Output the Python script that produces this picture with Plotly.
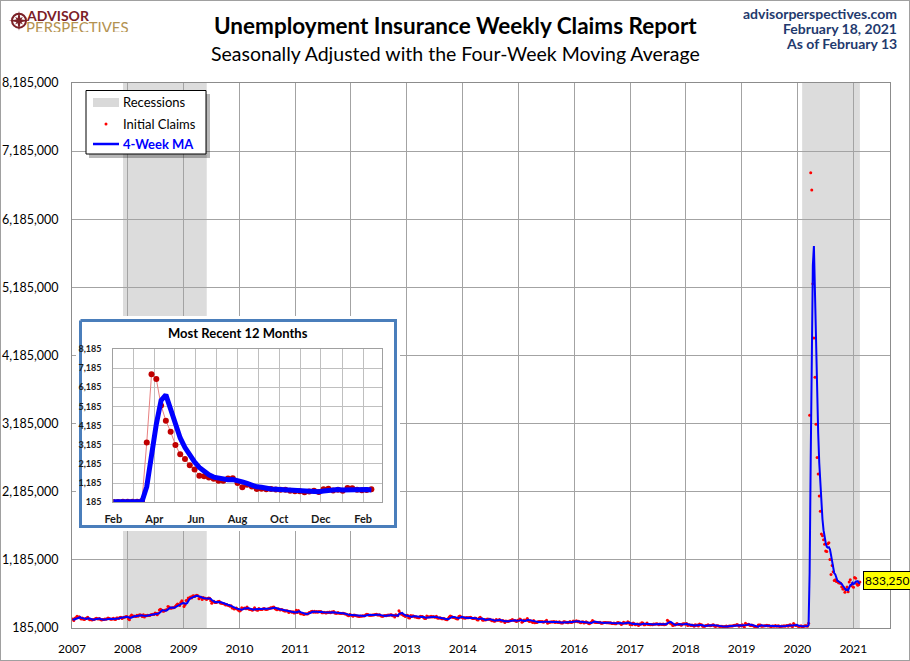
import numpy as np
import pandas as pd
import plotly.graph_objects as go

W, H = 910, 661

# ---------------- data (weekly initial claims, thousands, seasonally adjusted) -------------
claims_2007 = [317, 296, 328, 335, 357, 338, 349, 330, 318, 331, 312, 310, 323, 330, 342, 317, 305, 310,
               303, 311, 309, 322, 328, 321, 317, 324, 308, 302, 310, 309, 318, 315, 320, 330, 325, 318,
               313, 317, 327, 315, 309, 330, 332, 326, 339, 343, 324, 336, 344, 347, 355, 350]
claims_2008 = [322, 305, 356, 375, 354, 361, 356, 354, 372, 358, 374, 380, 372, 355, 380, 345, 368, 365,
               373, 370, 368, 378, 383, 387, 384, 407, 397, 380, 402, 451, 462, 448, 434, 431, 446, 448,
               456, 499, 493, 480, 474, 482, 484, 487, 506, 522, 539, 531, 514, 558, 585, 552]
claims_2009 = [502, 528, 590, 591, 626, 623, 640, 627, 654, 658, 646, 660, 665, 657, 614, 636, 635, 602,
               631, 620, 621, 605, 616, 626, 620, 586, 549, 570, 576, 560, 561, 568, 573, 576, 551, 550,
               545, 544, 535, 522, 531, 520, 514, 505, 510, 478, 480, 463, 471, 478, 461, 447]
claims_2010 = [434, 446, 482, 470, 474, 477, 468, 494, 468, 460, 455, 453, 446, 459, 482, 456, 450, 446,
               471, 460, 457, 457, 466, 472, 459, 456, 462, 469, 472, 483, 480, 488, 494, 472, 462, 454,
               467, 459, 448, 458, 452, 441, 434, 434, 440, 434, 414, 427, 424, 415, 422, 404]
claims_2011 = [409, 445, 414, 442, 416, 396, 395, 393, 383, 392, 393, 389, 396, 411, 418, 427, 432, 418,
               431, 416, 426, 415, 428, 424, 426, 409, 408, 418, 409, 405, 415, 412, 421, 408, 419, 421,
               426, 404, 403, 403, 411, 403, 401, 398, 400, 402, 393, 390, 387, 371, 364, 384, 375]
claims_2012 = [372, 356, 376, 371, 364, 362, 358, 355, 361, 359, 366, 360, 363, 380, 388, 385, 371, 371,
               373, 377, 374, 381, 384, 387, 376, 376, 381, 364, 357, 358, 365, 370, 366, 372, 375, 373,
               379, 378, 363, 368, 346, 381, 373, 364, 439, 410, 392, 386, 372, 363, 355, 370]
claims_2013 = [371, 335, 330, 368, 356, 365, 358, 345, 351, 340, 334, 336, 359, 355, 352, 339, 325, 324,
               360, 345, 350, 346, 356, 348, 355, 346, 342, 358, 333, 327, 337, 332, 320, 321, 326, 316,
               311, 305, 323, 348, 360, 352, 342, 338, 340, 327, 320, 316, 352, 360, 345, 341]
claims_2014 = [330, 335, 327, 338, 336, 335, 339, 343, 330, 325, 324, 332, 329, 305, 304, 330, 344, 324,
               302, 297, 309, 303, 312, 317, 313, 314, 303, 290, 304, 285, 289, 311, 299, 300, 308, 288,
               283, 296, 286, 267, 288, 284, 281, 289, 293, 297, 310, 300, 294, 289, 280, 298]
claims_2015 = [294, 316, 305, 268, 281, 303, 297, 304, 325, 292, 282, 291, 282, 267, 295, 263, 265, 264,
               275, 279, 280, 276, 280, 269, 278, 281, 297, 255, 267, 270, 272, 276, 273, 282, 264, 275,
               271, 264, 276, 262, 260, 260, 276, 276, 270, 271, 262, 269, 282, 267, 268, 287]
claims_2016 = [277, 284, 293, 278, 285, 269, 262, 272, 278, 259, 265, 276, 267, 253, 248, 257, 274, 294,
               278, 268, 267, 267, 264, 264, 268, 254, 253, 262, 265, 267, 262, 262, 263, 260, 262, 252,
               252, 257, 246, 249, 261, 266, 259, 254, 235, 251, 268, 260, 258, 254, 275, 265, 236]
claims_2017 = [247, 234, 259, 246, 234, 239, 244, 223, 243, 241, 261, 258, 234, 234, 244, 257, 238, 236,
               232, 235, 234, 245, 241, 244, 248, 244, 234, 245, 240, 236, 244, 232, 236, 244, 298, 284,
               260, 260, 243, 223, 233, 229, 240, 252, 239, 238, 236, 225, 245, 247, 248, 241]
claims_2018 = [250, 220, 233, 230, 221, 230, 222, 210, 231, 226, 229, 215, 242, 233, 231, 210, 209, 211,
               222, 223, 232, 220, 218, 221, 228, 231, 215, 207, 218, 217, 213, 208, 212, 211, 205, 202,
               207, 214, 207, 211, 215, 216, 213, 216, 222, 224, 226, 235, 228, 212, 220, 221]
claims_2019 = [233, 216, 199, 253, 234, 236, 239, 225, 223, 229, 221, 211, 202, 196, 193, 230, 230, 228,
               211, 213, 215, 219, 218, 227, 216, 221, 209, 206, 216, 215, 209, 220, 209, 216, 217, 204,
               208, 215, 210, 218, 212, 217, 220, 211, 228, 231, 213, 205, 252, 234, 220, 222]
claims_2020 = [214, 207, 211, 217, 203, 205, 214, 219, 217, 211, 256, 3307, 6867, 6615, 5237, 4442, 3867,
               3176, 2687, 2446, 2123, 1897, 1566, 1540, 1482, 1413, 1314, 1307, 1422, 1435, 1191, 971,
               1104, 1011, 881, 893, 866, 873, 849, 845, 842, 790, 756, 757, 711, 748, 787, 716, 862,
               892, 806, 837]
claims_2021 = [784, 926, 914, 836, 812, 824, 861]

claim_years = [2007, 2008, 2009, 2010, 2011, 2012, 2013, 2014, 2015, 2016, 2017, 2018, 2019, 2020, 2021]
claims_by_year = [claims_2007, claims_2008, claims_2009, claims_2010, claims_2011, claims_2012,
                  claims_2013, claims_2014, claims_2015, claims_2016, claims_2017, claims_2018,
                  claims_2019, claims_2020, claims_2021]

recession_starts = ["2007-12-01", "2020-02-01"]
recession_ends = ["2009-06-01", "2021-02-13"]

main_y_ticks = [185000, 1185000, 2185000, 3185000, 4185000, 5185000, 6185000, 7185000, 8185000]
inset_y_ticks = [185, 1185, 2185, 3185, 4185, 5185, 6185, 7185, 8185]
inset_start = "2020-02-01"

# ---------------- build series ----------------
def first_saturday(y):
    d = pd.Timestamp(f"{y}-01-01")
    return d + pd.Timedelta(days=(5 - d.weekday()) % 7)

date_parts = [pd.date_range(first_saturday(y), periods=len(v), freq="7D")
              for y, v in zip(claim_years, claims_by_year)]
dates = pd.DatetimeIndex(np.concatenate([p.values for p in date_parts]))
claims_k = pd.Series(np.concatenate([np.array(v, dtype=float) for v in claims_by_year]), index=dates)
ma_k = claims_k.rolling(4, min_periods=1).mean()
claims = claims_k * 1000
ma = ma_k * 1000

inset_mask = dates >= pd.Timestamp(inset_start)

# ---------------- helpers ----------------
def px(x):
    return x / W

def py(y):
    return 1 - y / H

FONT = "Lato, 'Open Sans', sans-serif"
RED_LOGO = "#7b2026"
GOLD = "#b39250"
NAVY = "#1f3a6e"

fig = go.Figure()

# main chart
fig.add_trace(go.Scatter(x=dates, y=claims, mode="markers",
                         marker=dict(color="#ff0000", size=3, line=dict(width=0)),
                         xaxis="x", yaxis="y", hoverinfo="skip", showlegend=False))
fig.add_trace(go.Scatter(x=dates, y=ma, mode="lines", line=dict(color="#0000ff", width=2),
                         xaxis="x", yaxis="y", hoverinfo="skip", showlegend=False))

# inset background box (own subplot so it covers the main grid)
bx = [80.5, 395.5, 395.5, 80.5, 80.5]
by = [320.5, 320.5, 526.5, 526.5, 320.5]
fig.add_trace(go.Scatter(x=bx, y=by, mode="lines", fill="toself", fillcolor="white",
                         line=dict(color="#4a7ebb", width=3), xaxis="x2", yaxis="y2",
                         hoverinfo="skip", showlegend=False))

# inset chart
fig.add_trace(go.Scatter(x=dates[inset_mask], y=claims_k[inset_mask], mode="lines+markers",
                         line=dict(color="#e88080", width=1),
                         marker=dict(color="#c00000", size=6),
                         xaxis="x3", yaxis="y3", hoverinfo="skip", showlegend=False))
fig.add_trace(go.Scatter(x=dates[inset_mask], y=ma_k[inset_mask], mode="lines",
                         line=dict(color="#0000ff", width=5),
                         xaxis="x3", yaxis="y3", hoverinfo="skip", showlegend=False))

shapes = []
# recessions
for s, e in zip(recession_starts, recession_ends):
    shapes.append(dict(type="rect", xref="x", yref="y", x0=s, x1=e, y0=main_y_ticks[0],
                       y1=main_y_ticks[-1], fillcolor="#dcdcdc", line=dict(width=0), layer="below"))

# legend box
shapes.append(dict(type="rect", xref="paper", yref="paper", x0=px(89), x1=px(210), y0=py(158), y1=py(94),
                   fillcolor="rgba(0,0,0,0.28)", line=dict(width=0), layer="above"))
shapes.append(dict(type="rect", xref="paper", yref="paper", x0=px(86), x1=px(206), y0=py(154), y1=py(90.5),
                   fillcolor="white", line=dict(color="black", width=1), layer="above"))
shapes.append(dict(type="rect", xref="paper", yref="paper", x0=px(93), x1=px(119), y0=py(107), y1=py(98),
                   fillcolor="#d9d9d9", line=dict(width=0), layer="above"))
shapes.append(dict(type="circle", xref="paper", yref="paper", x0=px(104.5), x1=px(107.5), y0=py(125.5),
                   y1=py(122.5), fillcolor="#ff0000", line=dict(width=0), layer="above"))
shapes.append(dict(type="line", xref="paper", yref="paper", x0=px(93), x1=px(119), y0=py(144), y1=py(144),
                   line=dict(color="#0000ff", width=2.5), layer="above"))

# figure frame
shapes.append(dict(type="rect", xref="paper", yref="paper", x0=0, x1=1, y0=0, y1=1,
                   line=dict(color="#a0a0a0", width=2), layer="above"))

# logo
def star_path(cx, cy, r_out, r_in, n=4, rot=0.0):
    pts = []
    for i in range(2 * n):
        ang = rot + np.pi * i / n
        r = r_out if i % 2 == 0 else r_in
        pts.append((cx + r * np.sin(ang), cy - r * np.cos(ang)))
    return "M " + " L ".join(f"{px(x):.5f},{py(y):.5f}" for x, y in pts) + " Z"

shapes.append(dict(type="circle", xref="paper", yref="paper", x0=px(12), x1=px(26), y0=py(27.7),
                   y1=py(13.7), line=dict(color=RED_LOGO, width=2), layer="above"))
shapes.append(dict(type="path", xref="paper", yref="paper", path=star_path(19, 20.7, 5.5, 1.8, 4, np.pi / 4),
                   fillcolor=RED_LOGO, line=dict(width=0), layer="above"))
shapes.append(dict(type="path", xref="paper", yref="paper", path=star_path(19, 20.7, 10, 2.2, 4, 0.0),
                   fillcolor=RED_LOGO, line=dict(width=0), layer="above"))

annotations = []
def note(text, x, y, size, color="black", xanchor="center", weight=None, **kw):
    f = dict(family=FONT, size=size, color=color)
    if weight is not None:
        f["weight"] = weight
    annotations.append(dict(text=text, x=px(x), y=py(y), xref="paper", yref="paper", showarrow=False,
                            xanchor=xanchor, yanchor="middle", font=f, **kw))

note("<b>Unemployment Insurance Weekly Claims Report</b>", 455, 25, 22.5)
note("Seasonally Adjusted with the Four-Week Moving Average", 455, 53, 19.5)
note("<b>advisorperspectives.com</b>", 899, 14, 14, NAVY, "right", height=15)
note("<b>February 18, 2021</b>", 899, 29, 14, NAVY, "right", height=15)
note("<b>As of February 13</b>", 899, 44, 14, NAVY, "right", height=15)
note("<b>ADVISOR</b>", 24, 15.5, 14, RED_LOGO, "left", height=11)
note("PERSPECTIVES", 24, 26.8, 15, GOLD, "left", height=11)
note("Recessions", 121, 102.5, 13, "black", "left")
note("Initial Claims", 121, 124, 13, "black", "left")
note("<b>4-Week MA</b>", 121, 144, 13, "#0000ff", "left")
note("<b>Most Recent 12 Months</b>", 238, 333, 13, "black")

# last value label
annotations.append(dict(text=f"{ma.iloc[-1]:,.0f}", x=dates[-1], y=ma.iloc[-1], xref="x", yref="y",
                        showarrow=False, xanchor="left", yanchor="middle", xshift=3, yshift=3,
                        bgcolor="#ffff00", bordercolor="black", borderwidth=1, borderpad=1,
                        font=dict(family=FONT, size=12, color="black")))

grid = "#a3a3a3"
fig.update_layout(
    template="none",
    width=W, height=H, margin=dict(l=0, r=0, t=0, b=0, pad=0, autoexpand=False),
    paper_bgcolor="white", plot_bgcolor="white",
    font=dict(family=FONT, size=12, color="black"),
    showlegend=False,
    shapes=shapes, annotations=annotations,
    xaxis=dict(domain=[px(72), px(890)], anchor="y", type="date", automargin=False,
               range=["2007-01-01", "2021-08-29"], tick0="2007-01-01", dtick="M12", tickformat="%Y",
               showgrid=True, gridcolor=grid, gridwidth=1, zeroline=False,
               showline=True, linecolor="#8c8c8c", linewidth=1, mirror=True,
               ticks="", ticklabelstandoff=10, tickfont=dict(size=12, color="black")),
    yaxis=dict(domain=[py(628), py(83)], anchor="x", range=[main_y_ticks[0], main_y_ticks[-1]],
               tickvals=main_y_ticks, tickformat=",d", automargin=False,
               showgrid=True, gridcolor=grid, gridwidth=1, zeroline=False,
               showline=True, linecolor="#8c8c8c", linewidth=1, mirror=True,
               ticks="", ticklabelstandoff=10, tickfont=dict(size=12.5, color="black")),
    xaxis2=dict(domain=[px(76), px(400)], anchor="y2", range=[76, 400], visible=False, automargin=False),
    yaxis2=dict(domain=[py(531), py(316)], anchor="x2", range=[531, 316], visible=False, automargin=False),
    xaxis3=dict(domain=[px(113.3), px(382.3)], anchor="y3", type="date", automargin=False,
                range=[inset_start, "2021-03-01"], tick0=inset_start, dtick="M2", tickformat="%b",
                showgrid=True, gridcolor="#bfbfbf", gridwidth=1, zeroline=False,
                minor=dict(dtick="M1", tick0=inset_start, showgrid=True, gridcolor="#bfbfbf", gridwidth=1),
                showline=True, linecolor="#a0a0a0", linewidth=1, mirror=True,
                ticks="", ticklabelstandoff=6,
                tickfont=dict(size=11, color="#1a1a1a", weight="bold")),
    yaxis3=dict(domain=[py(502.3), py(349)], anchor="x3", range=[inset_y_ticks[0], inset_y_ticks[-1]],
                tickvals=inset_y_ticks, tickformat=",d", automargin=False,
                showgrid=True, gridcolor="#bfbfbf", gridwidth=1, zeroline=False,
                showline=True, linecolor="#a0a0a0", linewidth=1, mirror=True,
                ticks="", ticklabelstandoff=9,
                tickfont=dict(size=9, color="#1a1a1a", weight="bold")),
)

fig.write_html("out.html", config={"displayModeBar": False, "staticPlot": True},
               post_script="document.body.style.margin='0';document.body.style.overflow='hidden';")
